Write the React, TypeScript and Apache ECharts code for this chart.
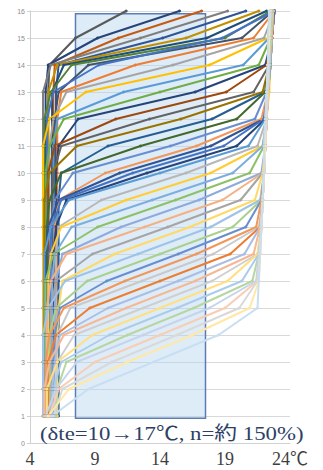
import React, { useEffect, useRef } from "react";
import * as echarts from "echarts";

// Sensor heights (y) shared by every profile
const HEIGHTS = [1, 2, 3, 4, 5, 6, 7, 8, 9, 10, 11, 12, 13, 14, 15, 16];
const X_MIN = 4;
const X_MAX = 24;
const X_STEP = 5;
const Y_MIN = 0;
const Y_MAX = 16;
const ANNOTATION = "(δte=10→17℃, n=約 150%)";
// highlighted operating band (temperature range x height range)
const BAND_TEMP = [7.5, 17.5];
const BAND_HEIGHT = [0.92, 15.9];

// Temperature profiles (℃ at heights 1..16), in time order
const PROFILES: number[][] = [
  [5.4, 5.4, 5.4, 5.4, 5.4, 5.4, 5.4, 5.4, 5.4, 5.4, 5.4, 5.4, 5.4, 5.5, 7.5, 11.4],
  [5.2, 5.2, 5.2, 5.2, 5.2, 5.2, 5.2, 5.2, 5.2, 5.2, 5.2, 5.2, 5.2, 5.4, 9.2, 15.5],
  [5.8, 5.8, 5.8, 5.8, 5.8, 5.8, 5.8, 5.8, 5.8, 5.8, 5.8, 5.8, 5.8, 5.9, 10.8, 17.2],
  [5.0, 5.0, 5.0, 5.0, 5.0, 5.0, 5.0, 5.0, 5.0, 5.0, 5.0, 5.0, 5.0, 5.6, 12.5, 19.2],
  [6.0, 6.0, 6.0, 6.0, 6.0, 6.0, 6.0, 6.0, 6.0, 6.0, 6.0, 6.0, 6.0, 6.2, 14.2, 20.6],
  [5.4, 5.4, 5.4, 5.4, 5.4, 5.4, 5.4, 5.4, 5.4, 5.4, 5.4, 5.4, 5.4, 6.1, 16.0, 21.6],
  [5.7, 5.7, 5.7, 5.7, 5.7, 5.7, 5.7, 5.7, 5.7, 5.7, 5.7, 5.7, 5.7, 6.6, 17.6, 22.2],
  [5.1, 5.1, 5.1, 5.1, 5.1, 5.1, 5.1, 5.1, 5.1, 5.1, 5.1, 5.1, 5.6, 7.2, 19.0, 22.5],
  [5.9, 5.9, 5.9, 5.9, 5.9, 5.9, 5.9, 5.9, 5.9, 5.9, 5.9, 5.9, 6.2, 8.5, 20.3, 22.7],
  [5.3, 5.3, 5.3, 5.3, 5.3, 5.3, 5.3, 5.3, 5.3, 5.3, 5.3, 5.3, 5.8, 9.3, 18.8, 22.8],
  [6.1, 6.1, 6.1, 6.1, 6.1, 6.1, 6.1, 6.1, 6.1, 6.1, 6.1, 6.1, 6.4, 12.1, 21.2, 22.8],
  [5.5, 5.5, 5.5, 5.5, 5.5, 5.5, 5.5, 5.5, 5.5, 5.5, 5.5, 5.8, 6.8, 15.0, 22.0, 22.8],
  [5.0, 5.0, 5.0, 5.0, 5.0, 5.0, 5.0, 5.0, 5.0, 5.0, 5.0, 5.5, 8.3, 17.8, 22.3, 22.8],
  [5.8, 5.8, 5.8, 5.8, 5.8, 5.8, 5.8, 5.8, 5.8, 5.8, 5.8, 6.1, 11.2, 20.4, 22.4, 22.7],
  [5.2, 5.2, 5.2, 5.2, 5.2, 5.2, 5.2, 5.2, 5.2, 5.2, 5.5, 6.6, 14.0, 21.6, 22.5, 22.8],
  [6.0, 6.0, 6.0, 6.0, 6.0, 6.0, 6.0, 6.0, 6.0, 6.0, 6.2, 7.7, 16.7, 22.1, 22.6, 22.8],
  [5.4, 5.4, 5.4, 5.4, 5.4, 5.4, 5.4, 5.4, 5.4, 5.4, 5.9, 10.6, 19.1, 22.2, 22.6, 22.8],
  [5.7, 5.7, 5.7, 5.7, 5.7, 5.7, 5.7, 5.7, 5.7, 5.8, 6.4, 13.2, 21.2, 22.4, 22.6, 22.8],
  [5.1, 5.1, 5.1, 5.1, 5.1, 5.1, 5.1, 5.1, 5.1, 5.5, 7.6, 15.6, 21.9, 22.4, 22.6, 22.8],
  [6.2, 6.2, 6.2, 6.2, 6.2, 6.2, 6.2, 6.2, 6.2, 6.4, 10.0, 18.0, 22.1, 22.4, 22.6, 22.7],
  [5.3, 5.3, 5.3, 5.3, 5.3, 5.3, 5.3, 5.3, 5.5, 6.4, 12.5, 19.9, 22.1, 22.4, 22.6, 22.8],
  [5.6, 5.6, 5.6, 5.6, 5.6, 5.6, 5.6, 5.6, 5.9, 7.3, 14.8, 21.3, 22.2, 22.4, 22.6, 22.8],
  [5.9, 5.9, 5.9, 5.9, 5.9, 5.9, 5.9, 5.9, 6.2, 9.8, 16.8, 21.8, 22.3, 22.5, 22.6, 22.8],
  [5.2, 5.2, 5.2, 5.2, 5.2, 5.2, 5.2, 5.4, 6.2, 10.9, 17.9, 22.0, 22.3, 22.5, 22.6, 22.7],
  [5.5, 5.5, 5.5, 5.5, 5.5, 5.5, 5.5, 5.7, 6.4, 11.9, 18.9, 22.0, 22.3, 22.5, 22.6, 22.8],
  [5.8, 5.8, 5.8, 5.8, 5.8, 5.8, 5.8, 6.0, 6.8, 13.0, 19.9, 22.1, 22.3, 22.5, 22.6, 22.7],
  [5.1, 5.1, 5.1, 5.1, 5.1, 5.1, 5.1, 5.6, 7.0, 14.0, 20.8, 22.1, 22.3, 22.4, 22.6, 22.7],
  [6.0, 6.0, 6.0, 6.0, 6.0, 6.0, 6.0, 6.2, 9.5, 16.0, 21.5, 22.2, 22.3, 22.5, 22.6, 22.7],
  [5.4, 5.4, 5.4, 5.4, 5.4, 5.4, 5.6, 6.4, 11.4, 17.9, 21.9, 22.2, 22.4, 22.5, 22.6, 22.7],
  [5.7, 5.7, 5.7, 5.7, 5.7, 5.7, 5.9, 7.2, 13.4, 19.6, 21.9, 22.2, 22.3, 22.5, 22.6, 22.7],
  [5.2, 5.2, 5.2, 5.2, 5.2, 5.2, 5.8, 9.2, 15.2, 20.9, 22.0, 22.2, 22.3, 22.5, 22.6, 22.7],
  [5.9, 5.9, 5.9, 5.9, 5.9, 6.0, 6.5, 11.0, 17.0, 21.8, 22.1, 22.2, 22.3, 22.5, 22.6, 22.7],
  [5.3, 5.3, 5.3, 5.3, 5.3, 5.6, 6.8, 12.8, 18.8, 21.9, 22.1, 22.2, 22.3, 22.4, 22.6, 22.7],
  [5.6, 5.6, 5.6, 5.6, 5.6, 6.0, 8.8, 14.6, 20.2, 21.9, 22.1, 22.2, 22.3, 22.4, 22.5, 22.7],
  [6.1, 6.1, 6.1, 6.1, 6.2, 6.5, 10.5, 16.3, 21.3, 21.9, 22.1, 22.2, 22.3, 22.4, 22.5, 22.7],
  [5.0, 5.0, 5.0, 5.0, 5.4, 6.7, 12.3, 17.9, 21.7, 22.0, 22.1, 22.2, 22.3, 22.4, 22.5, 22.6],
  [5.5, 5.5, 5.5, 5.5, 6.0, 8.4, 14.0, 19.6, 21.8, 22.0, 22.1, 22.2, 22.3, 22.4, 22.5, 22.6],
  [5.8, 5.8, 5.8, 5.9, 6.3, 9.9, 15.4, 20.6, 21.8, 22.0, 22.1, 22.2, 22.3, 22.4, 22.5, 22.6],
  [5.2, 5.2, 5.2, 5.5, 6.6, 11.3, 16.8, 21.4, 21.8, 22.0, 22.1, 22.2, 22.3, 22.4, 22.5, 22.6],
  [6.0, 6.0, 6.0, 6.1, 7.1, 12.6, 18.1, 21.6, 21.9, 22.0, 22.1, 22.2, 22.3, 22.4, 22.5, 22.6],
  [5.4, 5.4, 5.4, 6.0, 8.6, 14.0, 19.4, 21.7, 21.9, 22.0, 22.1, 22.2, 22.3, 22.4, 22.5, 22.6],
  [5.7, 5.7, 5.9, 6.3, 10.0, 15.4, 20.5, 21.7, 21.9, 22.0, 22.1, 22.2, 22.3, 22.4, 22.5, 22.6],
  [5.1, 5.1, 5.5, 6.6, 11.4, 16.7, 21.2, 21.7, 21.9, 22.0, 22.1, 22.2, 22.3, 22.4, 22.5, 22.6],
  [5.9, 5.9, 6.1, 7.4, 12.7, 18.0, 21.5, 21.8, 21.9, 22.0, 22.1, 22.2, 22.3, 22.4, 22.5, 22.6],
  [5.3, 5.3, 6.1, 8.8, 14.0, 19.2, 21.5, 21.8, 21.9, 22.0, 22.1, 22.2, 22.3, 22.4, 22.5, 22.6],
  [5.6, 5.8, 6.4, 10.1, 15.3, 20.3, 21.6, 21.8, 21.9, 22.0, 22.1, 22.2, 22.3, 22.4, 22.5, 22.6],
  [6.0, 6.1, 6.8, 11.5, 16.6, 21.1, 21.6, 21.8, 21.9, 22.0, 22.1, 22.2, 22.3, 22.4, 22.5, 22.5],
  [5.2, 6.0, 7.6, 12.7, 17.8, 21.4, 21.6, 21.8, 21.9, 22.0, 22.1, 22.2, 22.3, 22.4, 22.4, 22.5],
  [5.5, 6.2, 9.0, 14.0, 19.0, 21.5, 21.7, 21.8, 21.9, 22.0, 22.1, 22.2, 22.3, 22.3, 22.4, 22.5],
  [5.8, 6.5, 10.3, 15.3, 20.1, 21.5, 21.7, 21.8, 21.9, 22.0, 22.1, 22.2, 22.2, 22.3, 22.4, 22.5],
  [5.4, 7.0, 11.5, 16.5, 20.9, 21.6, 21.7, 21.8, 21.9, 22.0, 22.1, 22.1, 22.2, 22.3, 22.4, 22.4],
  [5.7, 8.5, 13.5, 18.5, 21.5, 21.6, 21.7, 21.8, 21.9, 22.0, 22.0, 22.1, 22.2, 22.3, 22.3, 22.4],
];

// one colour per profile (style only)
const LINE_COLORS = [
  "#595959", "#264478", "#C55A11", "#7F7F7F", "#2F5597", "#BF9000", "#1F4E79", "#548235", "#44546A",
  "#4472C4", "#ED7D31", "#A5A5A5", "#FFC000", "#5B9BD5", "#70AD47", "#264478", "#9E480E", "#636363",
  "#997300", "#255E91", "#43682B", "#698ED0", "#F1975A",
  "#2F5597", "#4472C4", "#264478", "#5B9BD5",
  "#B7B7B7", "#FFCD33", "#7CAFDD", "#8CC168", "#8FAADC", "#F4B183", "#A5A5A5", "#FFD966", "#9DC3E6",
  "#A9D18E", "#698ED0", "#F1975A", "#C9C9C9", "#ED7D31",
  "#A9BEE4", "#F5B895", "#CFCFCF", "#FFDF80", "#AACCEA", "#B6D7A0", "#C6D3EC", "#F7CDB3", "#D9D9D9",
  "#FFE8A6", "#C8DEF2",
];

export default function App() {
  const ref = useRef<HTMLDivElement>(null);

  useEffect(() => {
    if (!ref.current) return;
    const chart = echarts.init(ref.current, null, { renderer: "svg" });

    const series: any[] = PROFILES.map((temps, i) => ({
      type: "line",
      name: "p" + (i + 1),
      data: temps.map((t, k) => [t, HEIGHTS[k]]),
      symbol: "circle",
      symbolSize: 3,
      showSymbol: true,
      silent: true,
      z: 2,
      lineStyle: { width: 2, color: LINE_COLORS[i % LINE_COLORS.length] },
      itemStyle: { color: LINE_COLORS[i % LINE_COLORS.length] },
    }));

    series.push({
      type: "line",
      name: "band",
      data: [],
      silent: true,
      z: 10,
      markArea: {
        silent: true,
        itemStyle: {
          color: "rgba(182, 212, 240, 0.45)",
          borderColor: "#5b7db4",
          borderWidth: 1.5,
        },
        data: [
          [
            { coord: [BAND_TEMP[0], BAND_HEIGHT[0]] },
            { coord: [BAND_TEMP[1], BAND_HEIGHT[1]] },
          ],
        ],
      },
    });

    chart.setOption({
      animation: false,
      backgroundColor: "#ffffff",
      grid: { left: 30, right: 33, top: 11, bottom: 27, containLabel: false },
      xAxis: {
        type: "value",
        min: X_MIN,
        max: X_MAX,
        interval: X_STEP,
        axisLine: { show: true, lineStyle: { color: "#d0d0d0" } },
        axisTick: { show: false },
        splitLine: { show: false },
        axisLabel: {
          formatter: (v: number) => (v === X_MAX ? v + "℃" : String(v)),
          fontFamily: "'Liberation Serif', 'Noto Sans CJK JP', serif",
          fontSize: 18,
          color: "#3f3f3f",
          margin: 7,
        },
      },
      yAxis: {
        type: "value",
        min: Y_MIN,
        max: Y_MAX,
        interval: 1,
        axisLine: { show: true, lineStyle: { color: "#d0d0d0" } },
        axisTick: { show: true, length: 3, lineStyle: { color: "#d0d0d0" } },
        splitLine: { show: true, lineStyle: { color: "#d9d9d9", width: 1 } },
        axisLabel: { fontSize: 7, color: "#8c8c8c", margin: 5 },
      },
      graphic: [
        {
          type: "text",
          x: 40,
          y: 434,
          scaleX: 1.2,
          z: 100,
          style: {
            text: ANNOTATION,
            fontFamily: "'Liberation Serif', 'Noto Sans CJK JP', serif",
            fontSize: 19,
            fill: "#2e3f66",
            align: "left",
            verticalAlign: "middle",
          },
        },
      ],
      series,
    });

    return () => chart.dispose();
  }, []);

  return (
    <div
      ref={ref}
      style={{ position: "fixed", left: 0, top: 0, width: 323, height: 470 }}
    />
  );
}
